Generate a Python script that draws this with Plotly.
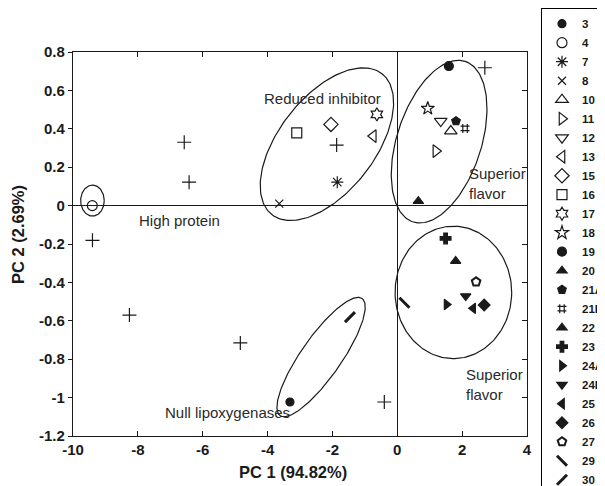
import numpy as np
import plotly.graph_objects as go

# ---------------- data ----------------
names = ["3", "4", "7", "8", "10", "11", "12", "13", "15", "16", "17", "18", "19",
         "20", "21A", "21B", "22", "23", "24A", "24B", "25", "26", "27", "29", "30"]
pc1 = [-3.31, -9.405, -1.85, -3.64, 1.65, 1.19, 1.34, -0.74, -2.045, -3.10, -0.63, 0.94, 1.59,
       0.65, 1.81, 2.09, 1.80, 1.49, 1.52, 2.11, 2.34, 2.68, 2.43, 0.22, -1.46]
pc2 = [-1.023, 0.0, 0.122, 0.01, 0.388, 0.284, 0.44, 0.362, 0.423, 0.379, 0.475, 0.506, 0.727,
       0.023, 0.44, 0.402, -0.289, -0.171, -0.515, -0.471, -0.535, -0.518, -0.397, -0.506, -0.581]

# unlabeled samples (+)
other_pc1 = [-6.57, -6.42, -9.4, -1.87, 2.70, -0.40, -8.26, -4.84]
other_pc2 = [0.33, 0.122, -0.181, 0.315, 0.718, -1.023, -0.57, -0.715]

x_ticks = [-10, -8, -6, -4, -2, 0, 2, 4]
x_ticktext = ["-10", "-8", "-6", "-4", "-2", "0", "2", "4"]
y_ticks = [0.8, 0.6, 0.4, 0.2, 0, -0.2, -0.4, -0.6, -0.8, -1, -1.2]
y_ticktext = ["0.8", "0.6", "0.4", "0.2", "0", "-0.2", "-0.4", "-0.6", "-0.8", "-1", "-1.2"]

x_title = "PC 1 (94.82%)"
y_title = "PC 2 (2.69%)"

# group ellipses: centre (data), semi-axes (px), rotation (deg)
ell_cx = [-9.40, -2.17, 1.29, 1.73, -2.35]
ell_cy = [0.026, 0.320, 0.333, -0.452, -0.789]
ell_a = [11.8, 89.4, 84.4, 58.3, 71.5]
ell_b = [15.5, 47.8, 42.2, 66.2, 20.0]
ell_ang = [0, 52, 72, 0, 55]

group_labels = ["Reduced inhibitor", "Superior<br>flavor", "High protein",
                "Null lipoxygenases", "Superior<br>flavor"]
label_x = [-2.32, 2.14, -6.73, -5.25, 2.07]
label_y = [0.556, 0.116, -0.076, -1.076, -0.93]
label_anchor = ["center", "left", "center", "center", "left"]

# ---------------- style ----------------
symbols = ["circle", "circle-open", "asterisk-open", "x-thin-open", "triangle-up-open",
           "triangle-right-open", "triangle-down-open", "triangle-left-open", "diamond-open",
           "square-open", "hexagram-open", "star-open", "circle", "triangle-up", "pentagon",
           "hash-open", "triangle-up", "cross", "triangle-right", "triangle-down",
           "triangle-left", "diamond", "pentagon-open", "line-nw", "line-ne"]
sizes = [8, 10, 10, 8, 11, 11, 11, 11, 11, 10, 10, 10, 9, 9, 9, 9, 9, 9, 9, 9, 9, 9, 9, 10, 10]

# page body has an 8px margin, so the figure is a bit smaller than the window
W, H = 597, 478
ML, MR, MT, MB = 65, 78, 44, 50
XR = (-10, 4)
YR = (-1.2, 0.8)
sx = (W - ML - MR) / (XR[1] - XR[0])
sy = (H - MT - MB) / (YR[1] - YR[0])

INK = "#1a1a1a"
FONT = "Liberation Sans, Arial"
fig = go.Figure()

# ellipses
t = np.linspace(0, 2 * np.pi, 200)
for cx, cy, a, b, ang in zip(ell_cx, ell_cy, ell_a, ell_b, ell_ang):
    th = np.deg2rad(ang)
    dx = a * np.cos(t) * np.cos(th) - b * np.sin(t) * np.sin(th)
    dy = a * np.cos(t) * np.sin(th) + b * np.sin(t) * np.cos(th)
    fig.add_trace(go.Scatter(x=cx + dx / sx, y=cy + dy / sy, mode="lines",
                             line=dict(color=INK, width=1.2), showlegend=False,
                             hoverinfo="skip"))

# other samples
fig.add_trace(go.Scatter(x=other_pc1, y=other_pc2, mode="markers", showlegend=False,
                         marker=dict(symbol="cross-thin-open", size=10, color=INK,
                                     line=dict(color=INK, width=1.2))))

for n, x, y, s, sz in zip(names, pc1, pc2, symbols, sizes):
    lw = 1.2
    if s.startswith("line"):
        lw = 3
    elif s == "pentagon-open":
        lw = 2
    fig.add_trace(go.Scatter(x=[x], y=[y], mode="markers", name=n,
                             marker=dict(symbol=s, size=sz, color=INK,
                                         line=dict(color=INK, width=lw))))

for txt, x, y, anc in zip(group_labels, label_x, label_y, label_anchor):
    fig.add_annotation(x=x, y=y, text=txt, showarrow=False, xanchor=anc, align="left",
                       font=dict(family=FONT, size=15, color="#2a2a2a"))

# axis titles
title_font = dict(family=FONT, size=16.5, color=INK, weight="bold")
fig.add_annotation(x=0.4846, y=-0.093, xref="paper", yref="paper", text=x_title,
                   showarrow=False, xanchor="center", yanchor="middle", font=title_font)
fig.add_annotation(x=-0.1211, y=0.5234, xref="paper", yref="paper", text=y_title,
                   showarrow=False, xanchor="center", yanchor="middle", textangle=-90,
                   font=title_font)

tickfont = dict(family=FONT, size=15, color=INK, weight="bold")
fig.update_layout(
    width=W, height=H,
    margin=dict(l=ML, r=MR, t=MT, b=MB, autoexpand=False),
    paper_bgcolor="white", plot_bgcolor="white",
    showlegend=True,
    legend=dict(x=1.0308, y=1.114, xanchor="left", yanchor="top",
                bordercolor="black", borderwidth=1, bgcolor="white",
                font=dict(family=FONT, size=11.5, color=INK, weight="bold"),
                tracegroupgap=0, itemwidth=30, maxheight=2000),
    xaxis=dict(range=list(XR), tickvals=x_ticks, ticktext=x_ticktext, ticks="inside",
               ticklen=5, tickcolor=INK, showline=True, linecolor=INK, linewidth=1.3,
               mirror="ticks", showgrid=False, zeroline=True, zerolinecolor=INK,
               zerolinewidth=1, tickfont=tickfont),
    yaxis=dict(range=list(YR), tickvals=y_ticks, ticktext=y_ticktext, ticks="outside",
               ticklen=4, tickcolor=INK, showline=True, linecolor=INK, linewidth=1.3,
               mirror=True, showgrid=False, zeroline=True, zerolinecolor=INK,
               zerolinewidth=1, tickfont=tickfont),
    yaxis2=dict(range=list(YR), overlaying="y", side="right", tickvals=y_ticks,
                ticks="inside", ticklen=5, tickcolor=INK, showticklabels=False,
                showgrid=False, zeroline=False, showline=False),
)
# invisible trace to activate right-side ticks
fig.add_trace(go.Scatter(x=[None], y=[None], yaxis="y2", showlegend=False, hoverinfo="skip"))

fig.write_html("out.html")
